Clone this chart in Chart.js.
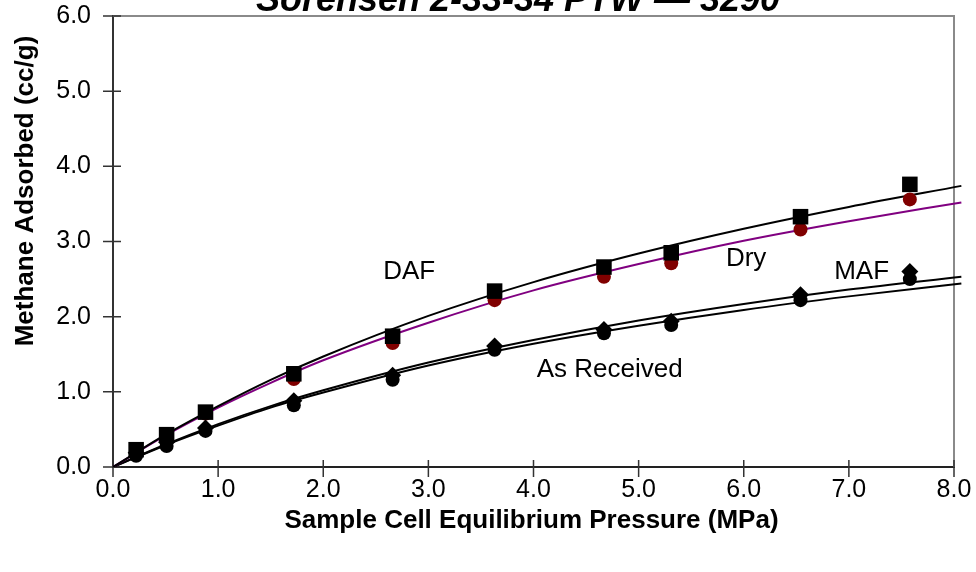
<!DOCTYPE html>
<html>
<head>
<meta charset="utf-8">
<script src="https://cdn.jsdelivr.net/npm/chart.js@4.4.1/dist/chart.umd.min.js"></script>
<style>
  body { margin: 0; background: #fff; }
  #wrap { width: 976px; height: 572px; position: relative; }
</style>
</head>
<body>
<div id="wrap"><canvas id="isotherm"></canvas></div>
<script>
// measured points (MPa, cc/g)
const pressure = [0.22, 0.51, 0.88, 1.72, 2.66, 3.63, 4.67, 5.31, 6.54, 7.58];
const dafMeasured = [0.23, 0.43, 0.73, 1.24, 1.74, 2.34, 2.66, 2.85, 3.33, 3.76];
const dryMeasured = [0.21, 0.40, 0.71, 1.17, 1.65, 2.22, 2.53, 2.71, 3.16, 3.56];
const mafMeasured = [0.19, 0.33, 0.52, 0.88, 1.22, 1.61, 1.83, 1.94, 2.29, 2.60];
const arMeasured  = [0.15, 0.28, 0.48, 0.82, 1.16, 1.56, 1.78, 1.89, 2.22, 2.50];

// fitted curves
const fitPressure = [0, 0.5, 1, 1.5, 2, 3, 4, 5, 6, 7, 8.07];
const dafFit = [0, 0.43, 0.81, 1.16, 1.47, 2.01, 2.46, 2.84, 3.17, 3.46, 3.74];
const dryFit = [0, 0.42, 0.79, 1.12, 1.42, 1.92, 2.35, 2.70, 3.01, 3.27, 3.52];
const mafFit = [0, 0.30, 0.57, 0.81, 1.02, 1.39, 1.69, 1.95, 2.17, 2.36, 2.53];
const arFit  = [0, 0.29, 0.55, 0.79, 0.99, 1.35, 1.64, 1.88, 2.09, 2.27, 2.44];

const xTickValues = [0, 1, 2, 3, 4, 5, 6, 7, 8];
const yTickValues = [0, 1, 2, 3, 4, 5, 6];

const curveNames = ['DAF', 'Dry', 'MAF', 'As Received'];
const curveNameAt = [[2.57, 2.50], [5.83, 2.67], [6.86, 2.50], [4.03, 1.20]];

const chartTitle = 'Sorensen 2-33-34 PTW \u2014 3290';
const xTitle = 'Sample Cell Equilibrium Pressure (MPa)';
const yTitle = 'Methane Adsorbed (cc/g)';

const FONT = '"Liberation Sans", Arial, sans-serif';

const pts = (xs, ys) => xs.map((x, i) => ({ x, y: ys[i] }));

function curve(data, color, order) {
    return {
        data: pts(fitPressure, data),
        showLine: true,
        borderColor: color,
        borderWidth: 2,
        pointRadius: 0,
        cubicInterpolationMode: 'monotone',
        clip: { left: 0, top: 0, right: 8, bottom: 0 },
        order
    };
}

function markers(data, style, radius, color, order) {
    return {
        data: pts(pressure, data),
        showLine: false,
        pointStyle: style,
        pointRadius: radius,
        pointBackgroundColor: color,
        pointBorderColor: color,
        pointBorderWidth: 0,
        order
    };
}

const decorations = {
    id: 'decorations',
    beforeDatasetsDraw(chart) {
        const { ctx, chartArea: a, scales: { x, y } } = chart;
        ctx.save();
        // grey frame on top and right
        ctx.strokeStyle = '#8a8a8a';
        ctx.lineWidth = 2;
        ctx.beginPath();
        ctx.moveTo(a.left, a.top);
        ctx.lineTo(a.right, a.top);
        ctx.lineTo(a.right, a.bottom);
        ctx.stroke();
        // cross ticks
        ctx.strokeStyle = '#333';
        ctx.lineWidth = 1.5;
        ctx.beginPath();
        y.ticks.forEach(t => {
            const py = y.getPixelForValue(t.value);
            ctx.moveTo(a.left - 10, py);
            ctx.lineTo(a.left + 8, py);
        });
        x.ticks.forEach(t => {
            const px = x.getPixelForValue(t.value);
            ctx.moveTo(px, a.bottom - 7);
            ctx.lineTo(px, a.bottom + 10);
        });
        ctx.stroke();
        ctx.restore();
    },
    afterDraw(chart) {
        const { ctx, chartArea: a, scales: { x, y } } = chart;
        ctx.save();
        ctx.fillStyle = '#000';

        ctx.font = 'bold italic 36px ' + FONT;
        ctx.textAlign = 'center';
        ctx.textBaseline = 'alphabetic';
        ctx.fillText(chartTitle, 518, 11);

        ctx.font = 'bold 26px ' + FONT;
        ctx.textBaseline = 'middle';
        ctx.fillText(xTitle, (a.left + a.right) / 2 - 2, 521);

        ctx.save();
        ctx.translate(26, 191);
        ctx.rotate(-Math.PI / 2);
        ctx.fillText(yTitle, 0, 0);
        ctx.restore();

        ctx.font = '26px ' + FONT;
        ctx.textAlign = 'left';
        ctx.textBaseline = 'alphabetic';
        curveNames.forEach((name, i) => {
            const [vx, vy] = curveNameAt[i];
            ctx.fillText(name, x.getPixelForValue(vx), y.getPixelForValue(vy));
        });
        ctx.restore();
    }
};

new Chart(document.getElementById('isotherm'), {
    type: 'scatter',
    data: {
        datasets: [
            markers(arMeasured, 'circle', 7, '#000000', 1),
            markers(mafMeasured, 'rectRot', 8.5, '#000000', 2),
            markers(dafMeasured, 'rect', 11, '#000000', 3),
            markers(dryMeasured, 'circle', 7, '#800000', 4),
            curve(dafFit, '#000000', 5),
            curve(dryFit, '#800080', 6),
            curve(mafFit, '#000000', 7),
            curve(arFit, '#000000', 8)
        ]
    },
    plugins: [decorations],
    options: {
        responsive: true,
        maintainAspectRatio: false,
        animation: false,
        layout: { padding: { top: 16, right: 22, left: 0, bottom: 0 } },
        plugins: {
            legend: { display: false },
            tooltip: { enabled: false },
            title: { display: false }
        },
        scales: {
            x: {
                type: 'linear',
                min: 0,
                max: 8,
                afterBuildTicks: s => { s.ticks = xTickValues.map(v => ({ value: v })); },
                afterFit: s => { s.height = 105; },
                grid: { display: false, drawTicks: true, tickLength: 8 },
                border: { display: true, color: '#222', width: 2 },
                ticks: {
                    color: '#000',
                    padding: 0,
                    maxRotation: 0,
                    font: { family: FONT, size: 25 },
                    callback: v => v.toFixed(1)
                }
            },
            y: {
                type: 'linear',
                min: 0,
                max: 6,
                afterBuildTicks: s => { s.ticks = yTickValues.map(v => ({ value: v })); },
                afterFit: s => { s.width = 113; },
                grid: { display: false, drawTicks: true, tickLength: 22 },
                border: { display: true, color: '#333', width: 2 },
                ticks: {
                    color: '#000',
                    padding: 0,
                    font: { family: FONT, size: 25 },
                    callback: v => v.toFixed(1)
                }
            }
        }
    }
});
</script>
</body>
</html>
